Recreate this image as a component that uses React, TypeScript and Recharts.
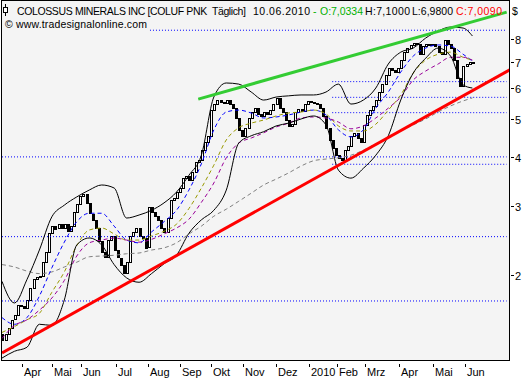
import React from "react";
import {
  ComposedChart,
  Bar,
  Line,
  XAxis,
  YAxis,
  ReferenceLine,
} from "recharts";

// daily chart, one candle every 2nd bar (close)
const closes = [
  1.37, 1.42, 1.47, 1.54, 1.58, 1.68, 1.67, 1.65, 1.73, 1.86,
  1.96, 1.98, 1.99, 2.16, 2.29, 2.56, 2.67, 2.63, 2.7, 2.64,
  2.7, 2.59, 2.67, 2.9, 3.04, 3.19, 3.22, 3.05, 2.87, 2.77,
  2.64, 2.44, 2.29, 2.22, 2.46, 2.52, 2.32, 2.22, 2.13, 2.03,
  2.16, 2.52, 2.58, 2.64, 2.52, 2.49, 2.35, 2.98, 2.9, 2.83,
  2.77, 2.64, 2.58, 2.8, 3.11, 3.15, 3.26, 3.34, 3.54, 3.58,
  3.5, 3.67, 3.89, 3.94, 4.17, 4.38, 4.54, 5.28, 5.47, 5.6,
  5.53, 5.5, 5.6, 5.47, 5.34, 5.04, 4.7, 4.54, 4.76, 5.04,
  5.22, 5.34, 5.16, 5.1, 5.22, 5.16, 5.28, 5.47, 5.67, 5.34,
  5.22, 4.98, 4.81, 4.87, 5.22, 5.31, 5.25, 5.47, 5.57, 5.53,
  5.5, 5.47, 5.34, 5.1, 4.76, 4.43, 4.22, 4.05, 3.98, 3.94,
  4.17, 4.27, 4.54, 4.62, 4.48, 4.38, 4.84, 5.13, 5.28, 5.41,
  5.6, 5.87, 6.15, 6.48, 6.76, 6.68, 6.6, 6.76, 7.08, 7.42,
  7.6, 7.74, 7.83, 7.78, 7.33, 7.69, 7.78, 7.74, 7.78, 7.69,
  7.42, 7.33, 7.97, 7.78, 7.6, 7.08, 6.38, 6.08, 6.84, 6.92,
  7.0, 7.009,
];
const firstOpen = 1.42;

// indicators, sampled every 8 bars
const upperBand = [
  1.93, 1.7, 1.95, 2.32, 2.82, 3.02, 3.17, 3.3, 3.4, 3.34,
  2.8, 2.85, 2.93, 3.06, 3.26, 3.6, 4.05, 5.7, 6.19, 6.15,
  5.87, 5.6, 5.7, 5.74, 5.77, 5.77, 5.87, 6.15, 5.47, 5.6,
  6.01, 6.92, 7.42, 7.6, 8.06, 8.4, 8.6, 8.55, 8.16,
];
const lowerBand = [
  1.23, 1.28, 1.31, 1.5, 1.49, 1.73, 2.39, 2.49, 2.39, 2.13,
  1.97, 1.92, 2.02, 2.14, 2.25, 2.56, 2.77, 2.93, 3.3, 4.35,
  4.54, 4.65, 4.81, 4.89, 5.01, 5.1, 4.84, 3.71, 3.54, 3.75,
  4.05, 4.54, 5.6, 6.56, 7.16, 7.6, 7.25, 6.12, 6.01,
];
const maBlue = [
  1.56, 1.5, 1.56, 1.77, 2.09, 2.43, 2.74, 2.88, 2.88, 2.67,
  2.46, 2.42, 2.58, 2.74, 2.93, 3.3, 3.85, 4.7, 5.22, 5.28,
  5.19, 5.04, 5.07, 5.13, 5.22, 5.28, 5.13, 4.7, 4.51, 4.7,
  5.34, 5.87, 6.6, 7.25, 7.6, 7.74, 7.69, 7.33, 7.04,
];
const maOlive = [
  1.43, 1.48, 1.54, 1.6, 1.81, 2.04, 2.38, 2.61, 2.64, 2.55,
  2.46, 2.46, 2.52, 2.59, 2.7, 2.96, 3.34, 3.82, 4.43, 4.76,
  4.89, 4.98, 5.1, 5.19, 5.22, 5.28, 5.16, 4.81, 4.67, 4.67,
  4.86, 5.28, 5.77, 6.56, 7.08, 7.33, 7.42, 7.2, 7.08,
];
const maPurple = [
  1.38, 1.49, 1.54, 1.63, 1.75, 1.94, 2.24, 2.42, 2.46, 2.49,
  2.46, 2.43, 2.47, 2.55, 2.64, 2.78, 3.07, 3.44, 3.99, 4.35,
  4.48, 4.62, 4.78, 4.89, 5.04, 5.07, 5.04, 4.92, 4.73, 4.81,
  5.04, 5.34, 5.7, 6.3, 6.64, 6.92, 7.2, 7.2, 7.08,
];
const maGray = [
  2.13, 2.1, 2.05, 2.02, 2.04, 2.1, 2.16, 2.23, 2.24, 2.25,
  2.27, 2.28, 2.32, 2.35, 2.42, 2.55, 2.67, 2.83, 2.95, 3.09,
  3.24, 3.4, 3.52, 3.65, 3.8, 3.92, 3.96, 3.99, 4.05, 4.17,
  4.33, 4.48, 4.67, 4.84, 5.01, 5.22, 5.41, 5.57, 5.67,
];

const monthLabels = ["Apr", "Mai", "Jun", "Jul", "Aug", "Sep", "Okt", "Nov", "Dez", "2010", "Feb", "Mrz", "Apr", "Mai", "Jun"];
const monthStartBar = [13, 32, 51, 73, 94, 114, 134, 155, 176, 197, 215, 233, 255, 277, 297];
const yTicks = [2, 3, 4, 5, 6, 7, 8];

// horizontal support / resistance levels (dotted)
const levelPrices = [8.44, 6.24, 5.69, 5.2, 4.01, 3.84, 2.51, 1.72];
const levelFromBar = [95, 212, 212, 212, 0, 212, 0, 0];
const levelToBar = 324;

const redTrend = [
  { bar: 0, v: 1.268 },
  { bar: 326, v: 6.69 },
];
const greenTrend = [
  { bar: 126, v: 5.63 },
  { bar: 324, v: 9.39 },
];

const FONT = "'Liberation Sans', Arial, sans-serif";
const lastBar = (closes.length - 1) * 2;

const candleData = closes.map((close, i) => ({
  bar: i * 2,
  open: i === 0 ? firstOpen : closes[i - 1],
  close,
}));
const sampled = (values: number[]) =>
  values.map((v, j) => ({ bar: Math.min(j * 8, lastBar), v }));

const Candle = (props: any) => {
  const { x, y, width, height, payload } = props;
  const up = payload.close >= payload.open;
  return (
    <rect
      x={Math.round(x) + 0.5}
      y={Math.round(y) + 0.5}
      width={width}
      height={Math.max(Math.round(height), 1)}
      fill={up ? "#fff" : "#000"}
      stroke="#000"
      strokeWidth={1}
    />
  );
};

const XTick = (props: any) => {
  const { x, y, payload } = props;
  const idx = monthStartBar.indexOf(payload.value);
  const px = Math.round(x) + 0.5;
  return (
    <g>
      <line x1={px} x2={px} y1={y + 4} y2={y + 7} stroke="#000" />
      <text x={px + 1.5} y={y + 16} fontSize={11} fontFamily={FONT} fill="#000">
        {monthLabels[idx]}
      </text>
    </g>
  );
};

const YTick = (props: any) => {
  const { x, y, payload } = props;
  const py = Math.round(y) + 0.5;
  return (
    <g>
      <line x1={x + 2} x2={x + 5} y1={py} y2={py} stroke="#000" />
      <text x={x + 6} y={py + 4} fontSize={11} fontFamily={FONT} fill="#000">
        {payload.value}
      </text>
    </g>
  );
};

const dashed = (data: number[], color: string, key: string) => (
  <Line
    key={key}
    data={sampled(data)}
    dataKey="v"
    type="monotone"
    stroke={color}
    strokeWidth={1}
    strokeDasharray="4 3"
    dot={false}
    isAnimationActive={false}
  />
);

export default function App() {
  return (
    <div
      style={{
        position: "absolute",
        left: 0,
        top: 0,
        width: 526,
        height: 380,
        background: "#fff",
        overflow: "hidden",
      }}
    >
      <div
        style={{
          position: "absolute",
          left: 1,
          top: 0,
          width: 509,
          height: 361,
          boxSizing: "border-box",
          border: "1px solid #000",
          background: "#F4F4F4",
        }}
      />
      <div style={{ position: "absolute", left: 0, top: 0 }}>
        <ComposedChart
          width={526}
          height={380}
          data={candleData}
          margin={{ top: 0, right: 0, bottom: 0, left: 2 }}
        >
          <XAxis
            dataKey="bar"
            type="number"
            domain={[0, 325.5]}
            allowDataOverflow
            ticks={monthStartBar}
            interval={0}
            height={20}
            tickSize={0}
            tickMargin={0}
            axisLine={false}
            tickLine={false}
            tick={<XTick />}
          />
          <YAxis
            orientation="right"
            type="number"
            scale="log"
            domain={[1.216, 10.08]}
            allowDataOverflow
            ticks={yTicks}
            interval={0}
            width={17}
            tickSize={0}
            tickMargin={0}
            axisLine={false}
            tickLine={false}
            tick={<YTick />}
          />

          {levelPrices.map((p, i) => (
            <ReferenceLine
              key={"lvl" + i}
              segment={[
                { x: levelFromBar[i], y: p },
                { x: levelToBar, y: p },
              ]}
              stroke="#0000FF"
              strokeDasharray="1 2"
              ifOverflow="hidden"
            />
          ))}

          {dashed(maGray, "#808080", "gray")}

          <Bar
            dataKey={(d: any) => [Math.min(d.open, d.close), Math.max(d.open, d.close)]}
            barSize={2}
            shape={<Candle />}
            isAnimationActive={false}
          />

          {dashed(maBlue, "#0000FF", "blue")}
          {dashed(maOlive, "#999900", "olive")}
          {dashed(maPurple, "#990099", "purple")}

          <Line
            data={sampled(upperBand)}
            dataKey="v"
            type="monotone"
            stroke="#000"
            strokeWidth={1}
            dot={false}
            isAnimationActive={false}
          />
          <Line
            data={sampled(lowerBand)}
            dataKey="v"
            type="monotone"
            stroke="#000"
            strokeWidth={1}
            dot={false}
            isAnimationActive={false}
          />

          <Line
            data={redTrend}
            dataKey="v"
            type="linear"
            stroke="#FF0000"
            strokeWidth={3}
            dot={false}
            isAnimationActive={false}
          />
          <Line
            data={greenTrend}
            dataKey="v"
            type="linear"
            stroke="#33CC33"
            strokeWidth={3}
            dot={false}
            isAnimationActive={false}
          />
        </ComposedChart>
      </div>

      <svg
        width={526}
        height={380}
        style={{ position: "absolute", left: 0, top: 0, pointerEvents: "none" }}
      >
        <line x1={5.5} x2={5.5} y1={4} y2={16} stroke="#000" />
        <rect x={3.5} y={7.5} width={4} height={5} fill="#fff" stroke="#000" />
        <g fontFamily={FONT} fontSize={10.5}>
          <text x={17} y={15} fill="#000" textLength={229} lengthAdjust="spacing">
            {"COLOSSUS MINERALS INC [COLUF PNK\u00A0\u00A0Täglich]"}
          </text>
          <text x={253} y={15} fill="#000" textLength={57} lengthAdjust="spacing">
            10.06.2010
          </text>
          <text x={313} y={15} fill="#00B000">-</text>
          <text x={320} y={15} fill="#00B000" textLength={43} lengthAdjust="spacing">
            O:7,0334
          </text>
          <text x={365} y={15} fill="#000" textLength={45} lengthAdjust="spacing">
            H:7,1000
          </text>
          <text x={412} y={15} fill="#000" textLength={41} lengthAdjust="spacing">
            L:6,9800
          </text>
          <text x={456} y={15} fill="#FF0000" textLength={46} lengthAdjust="spacing">
            C:7,0090
          </text>
          <text x={512} y={15} fill="#000">$</text>
          <text x={5} y={28} fill="#000" textLength={142} lengthAdjust="spacing">
            © www.tradesignalonline.com
          </text>
        </g>
      </svg>
    </div>
  );
}
